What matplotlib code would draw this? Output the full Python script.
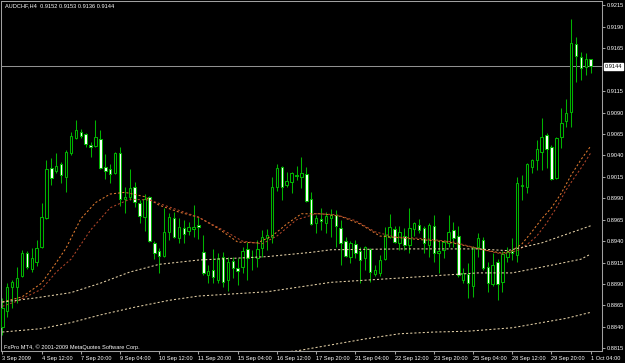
import matplotlib
matplotlib.use('Agg')
import matplotlib.pyplot as plt

plt.rcParams['font.family'] = ['Liberation Sans', 'DejaVu Sans']

# AUDCHF H4 candles, 3 Sep 2009 04:00 .. 1 Oct 2009 04:00
opens = [0.8840, 0.8858, 0.8887, 0.8887, 0.8899, 0.8926, 0.8907, 0.8916, 0.8933, 0.8967,
         0.9025, 0.9022, 0.9030, 0.9015, 0.9043, 0.9060, 0.9067, 0.9065, 0.9052, 0.9051,
         0.9059, 0.9027, 0.9024, 0.9020, 0.9043, 0.8989, 0.8992, 0.9003, 0.8985, 0.8968,
         0.8992, 0.8938, 0.8929, 0.8923, 0.8951, 0.8967, 0.8944, 0.8955, 0.8952, 0.8954,
         0.8959, 0.8927, 0.8901, 0.8906, 0.8895, 0.8922, 0.8895, 0.8917, 0.8909, 0.8910,
         0.8931, 0.8922, 0.8920, 0.8932, 0.8944, 0.8945, 0.9003, 0.9027, 0.9006, 0.9009,
         0.9017, 0.9015, 0.9018, 0.8989, 0.8961, 0.8966, 0.8961, 0.8967, 0.8971, 0.8955,
         0.8940, 0.8922, 0.8937, 0.8929, 0.8920, 0.8931, 0.8902, 0.8903, 0.8919, 0.8945,
         0.8954, 0.8938, 0.8946, 0.8936, 0.8954, 0.8959, 0.8955, 0.8936, 0.8958, 0.8926,
         0.8930, 0.8938, 0.8953, 0.8946, 0.8895, 0.8902, 0.8888, 0.8933, 0.8941, 0.8910,
         0.8890, 0.8916, 0.8892, 0.8922, 0.8929, 0.8924, 0.9004, 0.9003, 0.9027, 0.9035,
         0.9044, 0.9064, 0.9050, 0.9014, 0.9062, 0.9080, 0.9091, 0.9170, 0.9155, 0.9143,
         0.9152]
highs = [0.8874, 0.8891, 0.8895, 0.8910, 0.8930, 0.8928, 0.8932, 0.8941, 0.8985, 0.9035,
         0.9037, 0.9043, 0.9032, 0.9046, 0.9067, 0.9081, 0.9071, 0.9066, 0.9056, 0.9081,
         0.9070, 0.9042, 0.9030, 0.9044, 0.9050, 0.9003, 0.9024, 0.9009, 0.8988, 0.8995,
         0.8993, 0.8940, 0.8932, 0.8979, 0.8973, 0.8974, 0.8967, 0.8965, 0.8962, 0.8982,
         0.8968, 0.8947, 0.8912, 0.8931, 0.8926, 0.8927, 0.8922, 0.8922, 0.8920, 0.8933,
         0.8939, 0.8930, 0.8941, 0.8953, 0.8954, 0.9015, 0.9030, 0.9028, 0.9021, 0.9021,
         0.9028, 0.9038, 0.9027, 0.8997, 0.8971, 0.8979, 0.8974, 0.8978, 0.8976, 0.8965,
         0.8945, 0.8940, 0.8941, 0.8933, 0.8934, 0.8932, 0.8912, 0.8924, 0.8957, 0.8972,
         0.8958, 0.8958, 0.8955, 0.8979, 0.8962, 0.8966, 0.8958, 0.8961, 0.8971, 0.8941,
         0.8941, 0.8971, 0.8962, 0.8958, 0.8909, 0.8915, 0.8934, 0.8950, 0.8945, 0.8916,
         0.8926, 0.8919, 0.8929, 0.8933, 0.8944, 0.9015, 0.9017, 0.9031, 0.9036, 0.9058,
         0.9084, 0.9066, 0.9052, 0.9062, 0.9095, 0.9106, 0.9199, 0.9178, 0.9161, 0.9160,
         0.9153]
lows = [0.8831, 0.8852, 0.8862, 0.8868, 0.8898, 0.8908, 0.8904, 0.8911, 0.8932, 0.8966,
        0.9006, 0.9020, 0.9008, 0.8997, 0.9041, 0.9059, 0.9060, 0.9050, 0.9038, 0.9050,
        0.9024, 0.9013, 0.9008, 0.9018, 0.8981, 0.8973, 0.8988, 0.8980, 0.8961, 0.8952,
        0.8939, 0.8919, 0.8903, 0.8922, 0.8941, 0.8944, 0.8938, 0.8938, 0.8947, 0.8945,
        0.8943, 0.8900, 0.8891, 0.8891, 0.8891, 0.8887, 0.8882, 0.8897, 0.8889, 0.8903,
        0.8895, 0.8906, 0.8910, 0.8922, 0.8930, 0.8938, 0.8999, 0.8988, 0.9003, 0.8996,
        0.9011, 0.9002, 0.8986, 0.8959, 0.8950, 0.8953, 0.8950, 0.8945, 0.8933, 0.8912,
        0.8922, 0.8915, 0.8920, 0.8891, 0.8906, 0.8892, 0.8899, 0.8899, 0.8918, 0.8944,
        0.8938, 0.8930, 0.8930, 0.8926, 0.8946, 0.8950, 0.8926, 0.8922, 0.8916, 0.8903,
        0.8920, 0.8933, 0.8933, 0.8898, 0.8891, 0.8874, 0.8875, 0.8922, 0.8906, 0.8881,
        0.8888, 0.8871, 0.8881, 0.8916, 0.8918, 0.8916, 0.8988, 0.8996, 0.9020, 0.9023,
        0.9023, 0.9025, 0.9011, 0.9013, 0.9049, 0.9073, 0.9073, 0.9126, 0.9128, 0.9134,
        0.9136]
closes = [0.8862, 0.8887, 0.8892, 0.8897, 0.8926, 0.8910, 0.8920, 0.8932, 0.8968, 0.9024,
          0.9014, 0.9028, 0.9017, 0.9044, 0.9063, 0.9070, 0.9063, 0.9053, 0.9050, 0.9062,
          0.9025, 0.9022, 0.9018, 0.9043, 0.8989, 0.8992, 0.9002, 0.8986, 0.8969, 0.8989,
          0.8940, 0.8926, 0.8923, 0.8951, 0.8968, 0.8945, 0.8957, 0.8948, 0.8957, 0.8957,
          0.8957, 0.8903, 0.8905, 0.8898, 0.8920, 0.8892, 0.8916, 0.8909, 0.8905, 0.8929,
          0.8920, 0.8921, 0.8931, 0.8945, 0.8947, 0.9003, 0.9025, 0.9003, 0.9010, 0.9020,
          0.9016, 0.9020, 0.8987, 0.8960, 0.8967, 0.8964, 0.8969, 0.8971, 0.8958, 0.8938,
          0.8923, 0.8938, 0.8926, 0.8918, 0.8933, 0.8904, 0.8906, 0.8918, 0.8947, 0.8957,
          0.8939, 0.8951, 0.8936, 0.8955, 0.8961, 0.8953, 0.8938, 0.8959, 0.8926, 0.8929,
          0.8939, 0.8951, 0.8944, 0.8901, 0.8903, 0.8891, 0.8933, 0.8944, 0.8909, 0.8891,
          0.8912, 0.8890, 0.8925, 0.8927, 0.8926, 0.9008, 0.9005, 0.9030, 0.9035, 0.9048,
          0.9062, 0.9048, 0.9013, 0.9060, 0.9078, 0.9090, 0.9171, 0.9156, 0.9142, 0.9153,
          0.9144]

# moving averages (bar index, price)
ma_fast_idx = [0, 4, 8, 11, 13, 16, 19, 22, 25, 29, 32, 36, 40, 44, 48, 52, 55, 58, 61, 65,
               69, 73, 77, 81, 87, 91, 95, 99, 102, 104, 106, 108, 110, 112, 114, 116, 118, 120]
ma_fast = [0.8869, 0.8875, 0.8891, 0.8915, 0.8932, 0.8966, 0.8985, 0.8995, 0.8997, 0.8992,
           0.8982, 0.8974, 0.8968, 0.8955, 0.8939, 0.8938, 0.8946, 0.8960, 0.8972, 0.8972,
           0.8969, 0.8960, 0.8946, 0.8944, 0.8941, 0.8939, 0.8934, 0.8929, 0.8926, 0.8929,
           0.8937, 0.8951, 0.8966, 0.8979, 0.8996, 0.9017, 0.9035, 0.9051]
ma_slow_idx = [0, 3, 8, 11, 14, 18, 22, 26, 30, 34, 40, 45, 49, 53, 56, 60, 64, 68, 72, 76,
               80, 86, 92, 98, 102, 105, 107, 109, 111, 113, 115, 117, 118, 120]
ma_slow = [0.8864, 0.8870, 0.8884, 0.8904, 0.8919, 0.8953, 0.8979, 0.8989, 0.8988, 0.8980,
           0.8968, 0.8953, 0.8940, 0.8937, 0.8946, 0.8965, 0.8972, 0.8971, 0.8964, 0.8951,
           0.8945, 0.8943, 0.8939, 0.8930, 0.8925, 0.8929, 0.8936, 0.8946, 0.8961, 0.8979,
           0.9000, 0.9017, 0.9025, 0.9043]
ma_mid_idx = [0, 7, 14, 20, 26, 32, 40, 54, 63, 67, 81, 97, 103, 110, 116, 120]
ma_mid = [0.8869, 0.8874, 0.8880, 0.8891, 0.8904, 0.8913, 0.8918, 0.8922, 0.8927, 0.8930,
          0.8931, 0.8931, 0.8929, 0.8938, 0.8950, 0.8958]
ma_low_idx = [0, 8, 14, 20, 27, 34, 40, 54, 67, 81, 97, 104, 112, 118, 120]
ma_low = [0.8834, 0.8838, 0.8845, 0.8854, 0.8863, 0.8871, 0.8876, 0.8881, 0.8892, 0.8897,
          0.8903, 0.8903, 0.8912, 0.8919, 0.8925]
ma_long_idx = [58, 60, 67, 74, 81, 88, 95, 104, 108, 115, 120]
ma_long = [0.8811, 0.8812, 0.8819, 0.8826, 0.8832, 0.8834, 0.8835, 0.8839, 0.8843, 0.8850,
           0.8857]

bid = 0.9144
time_idx = [0, 8, 16, 24, 32, 40, 48, 56, 64, 72, 80, 88, 96, 104, 112, 120]
time_labels = ['3 Sep 2009', '4 Sep 12:00', '7 Sep 20:00', '9 Sep 04:00', '10 Sep 12:00',
               '11 Sep 20:00', '15 Sep 04:00', '16 Sep 12:00', '17 Sep 20:00', '21 Sep 04:00',
               '22 Sep 12:00', '23 Sep 20:00', '25 Sep 04:00', '28 Sep 12:00', '29 Sep 20:00',
               '1 Oct 04:00']
price_ticks = [0.9215, 0.9190, 0.9165, 0.9115, 0.9090, 0.9065, 0.9040, 0.9015, 0.8990,
               0.8965, 0.8940, 0.8915, 0.8890, 0.8865, 0.8840, 0.8815]

GREEN = '#00b400'
GREY = '#a0a0a0'
FS = 4.1

fig = plt.figure(figsize=(6.25, 3.63), dpi=100, facecolor='black')
ax = fig.add_axes([1 / 625, 12 / 363, 601 / 625, 350 / 363], facecolor='black')

x = list(range(len(opens)))
bottoms = [min(o, c) for o, c in zip(opens, closes)]
heights = [abs(c - o) for o, c in zip(opens, closes)]
faces = ['black' if c >= o else 'white' for o, c in zip(opens, closes)]

ax.vlines(x, lows, highs, color=GREEN, lw=0.75, zorder=2)
ax.bar(x, heights, bottom=bottoms, width=0.5, color=faces, edgecolor=GREEN,
       linewidth=0.75, zorder=3)

dots = (0, (2, 2))
ax.plot(ma_fast_idx, ma_fast, color='#e07a30', lw=0.75, ls=dots, zorder=4)
ax.plot(ma_slow_idx, ma_slow, color='#b0452a', lw=0.75, ls=dots, zorder=4)
ax.plot(ma_mid_idx, ma_mid, color='#e6d2a8', lw=0.75, ls=dots, zorder=4)
ax.plot(ma_low_idx, ma_low, color='#e6d2a8', lw=0.75, ls=dots, zorder=4)
ax.plot(ma_long_idx, ma_long, color='#e6d2a8', lw=0.75, ls=dots, zorder=4)

ax.axhline(bid, color='#909090', lw=0.75, zorder=1)

ax.set_xlim(-0.27, 122.3)
ax.set_ylim(0.88119, 0.92202)

ax.set_xticks(time_idx)
ax.set_xticklabels(time_labels, ha='left')
ax.yaxis.tick_right()
ax.set_yticks(price_ticks)
ax.set_yticklabels([f'{v:.4f}' for v in price_ticks])
ax.tick_params(axis='both', length=2.5, width=0.75, color=GREY, labelcolor='white',
               labelsize=FS, pad=1.2)

for s in ax.spines.values():
    s.set_color(GREY)
    s.set_linewidth(0.75)

ax.annotate(f'{bid:.4f}', xy=(1.0, bid), xycoords=('axes fraction', 'data'),
            xytext=(2.2, 0), textcoords='offset points', va='center', ha='left',
            fontsize=FS, color='black',
            bbox=dict(boxstyle='square,pad=0.12', facecolor='white', edgecolor='white'),
            annotation_clip=False)

fig.text(5 / 625, 1 - 6 / 363, 'AUDCHF,H4  0.9152 0.9153 0.9136 0.9144',
         color='white', fontsize=FS, va='center', ha='left')
fig.text(4 / 625, 1 - 347 / 363, 'FxPro MT4, \u00a9 2001-2009 MetaQuotes Software Corp.',
         color='white', fontsize=FS, va='center', ha='left')

fig.savefig('out.png', dpi=100, facecolor='black')
